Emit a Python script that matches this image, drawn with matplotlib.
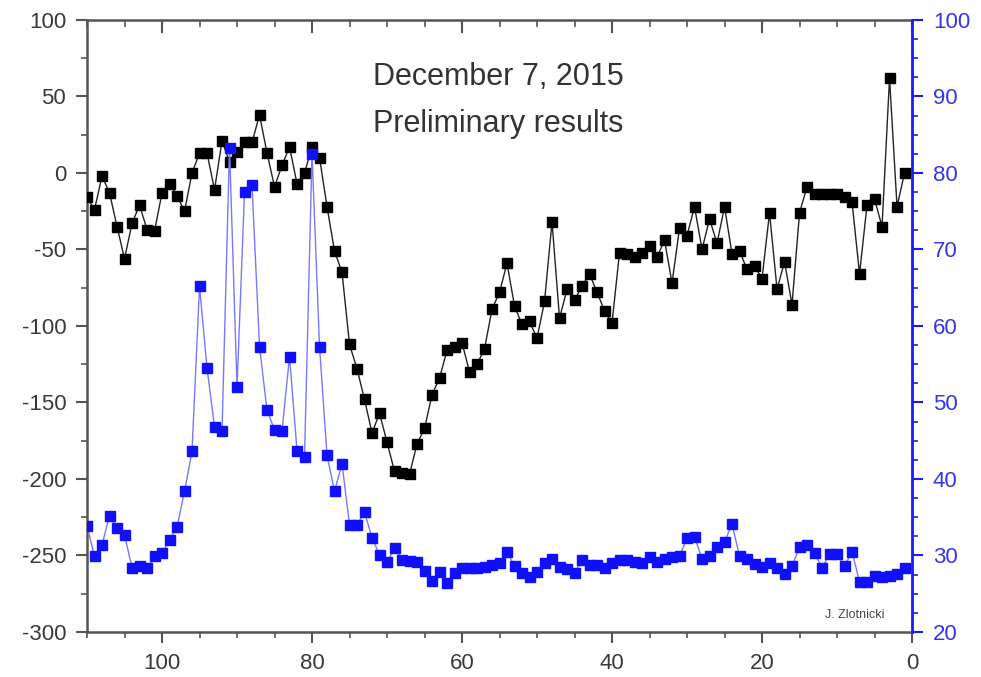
import numpy as np
import matplotlib.pyplot as plt
from matplotlib.ticker import MultipleLocator

# days before the event (x axis runs backwards)
days = list(range(110, 0, -1))

# black series, left axis
black_vals = [
    -16, -24, -2, -13, -35, -56, -33, -21, -37, -38,    # 110..101
    -13, -7, -15, -25, 0, 13, 13, -11, 21, 7,           # 100..91
    14, 20, 20, 38, 13, -9, 5, 17, -7, 0,               # 90..81
    17, 10, -22, -51, -65, -112, -128, -148, -170, -157,  # 80..71
    -176, -195, -196, -197, -177, -167, -145, -134, -116, -114,  # 70..61
    -111, -130, -125, -115, -89, -78, -59, -87, -99, -97,  # 60..51
    -108, -84, -32, -95, -76, -83, -74, -66, -78, -90,  # 50..41
    -98, -52, -53, -55, -52, -48, -55, -44, -72, -36,   # 40..31
    -41, -22, -50, -30, -46, -22, -53, -51, -63, -61,   # 30..21
    -69, -26, -76, -58, -86, -26, -9, -14, -14, -14,    # 20..11
    -14, -16, -19, -66, -21, -17, -35, 62, -22, 0,      # 10..1
]

# blue series, right axis
blue_vals = [
    33.9, 29.9, 31.4, 35.2, 33.6, 32.7, 28.4, 28.6, 28.4, 29.9,  # 110..101
    30.3, 32.0, 33.7, 38.4, 43.6, 65.2, 54.5, 46.8, 46.3, 83.3,  # 100..91
    52.0, 77.5, 78.4, 57.3, 49.0, 46.4, 46.3, 56.0, 43.7, 42.9,  # 90..81
    82.5, 57.3, 43.1, 38.4, 42.0, 34.0, 34.0, 35.7, 32.3, 30.1,  # 80..71
    29.1, 31.0, 29.4, 29.3, 29.1, 28.0, 26.7, 27.8, 26.4, 27.7,  # 70..61
    28.4, 28.4, 28.4, 28.5, 28.8, 29.0, 30.5, 28.6, 27.7, 27.2,  # 60..51
    27.8, 29.0, 29.5, 28.5, 28.2, 27.7, 29.4, 28.8, 28.8, 28.4,  # 50..41
    29.0, 29.4, 29.4, 29.2, 29.0, 29.8, 29.2, 29.6, 29.8, 29.9,  # 40..31
    32.3, 32.4, 29.6, 29.9, 31.1, 31.8, 34.1, 29.9, 29.6, 28.9,  # 30..21
    28.5, 29.0, 28.4, 27.6, 28.6, 31.1, 31.4, 30.3, 28.4, 30.2,  # 20..11
    30.2, 28.6, 30.5, 26.5, 26.5, 27.3, 27.2, 27.3, 27.6, 28.4,  # 10..1
]

plt.rcParams['font.family'] = ['Liberation Sans', 'DejaVu Sans']
plt.rcParams['axes.unicode_minus'] = False

axis_grey = '#555555'
label_grey = '#3a3a3a'
blue = '#1a1aff'

fig = plt.figure(figsize=(9.81, 6.77), dpi=100)
ax = fig.add_axes([0.0887, 0.0665, 0.8410, 0.9040])

ax.plot(days, black_vals, color='#222222', lw=1.0, marker='s', ms=7.8,
        mfc='black', mec='black', zorder=3)

ax.set_xlim(110, 0)
ax.set_ylim(-300, 100)
ax.xaxis.set_major_locator(MultipleLocator(20))
ax.xaxis.set_minor_locator(MultipleLocator(5))
ax.yaxis.set_major_locator(MultipleLocator(50))
ax.yaxis.set_minor_locator(MultipleLocator(25))
ax.tick_params(axis='both', which='major', labelsize=16, length=8, width=1.5,
               direction='out', pad=7, color=axis_grey, labelcolor=label_grey)
ax.tick_params(axis='both', which='minor', length=4.5, width=1.2,
               direction='out', color=axis_grey)
for sp in ax.spines.values():
    sp.set_linewidth(1.8)
    sp.set_color(axis_grey)

ax2 = ax.twinx()
ax2.plot(days, blue_vals, color='#7777ff', lw=1.0, marker='s', ms=7.8,
         mfc='#1010ff', mec='#1010ff', zorder=2)
ax2.set_ylim(20, 100)
ax2.yaxis.set_major_locator(MultipleLocator(10))
ax2.yaxis.set_minor_locator(MultipleLocator(2.5))
ax2.tick_params(axis='y', which='major', labelsize=16, length=8, width=1.5,
                color=blue, labelcolor='#3535ee', direction='out', pad=7)
ax2.tick_params(axis='y', which='minor', length=4.5, width=1.2,
                color=blue, direction='out')
ax2.spines['right'].set_color(blue)
ax2.spines['right'].set_linewidth(1.8)
for s in ['left', 'top', 'bottom']:
    ax2.spines[s].set_visible(False)

# top ticks point inward
ax.tick_params(axis='x', which='both', top=True)
for t in ax.xaxis.get_major_ticks():
    t.tick2line.set_marker(3)
    t.tick2line.set_markersize(9)
for t in ax.xaxis.get_minor_ticks():
    t.tick2line.set_marker(3)
    t.tick2line.set_markersize(5)

ax.text(0.498, 0.907, 'December 7, 2015', transform=ax.transAxes,
        fontsize=22, color='#333333', ha='center', va='center')
ax.text(0.498, 0.830, 'Preliminary results', transform=ax.transAxes,
        fontsize=22, color='#333333', ha='center', va='center')
ax.text(0.93, 0.027, 'J. Zlotnicki', transform=ax.transAxes,
        fontsize=9, color='#444444', ha='center', va='center')

fig.savefig('out.png', dpi=100)
